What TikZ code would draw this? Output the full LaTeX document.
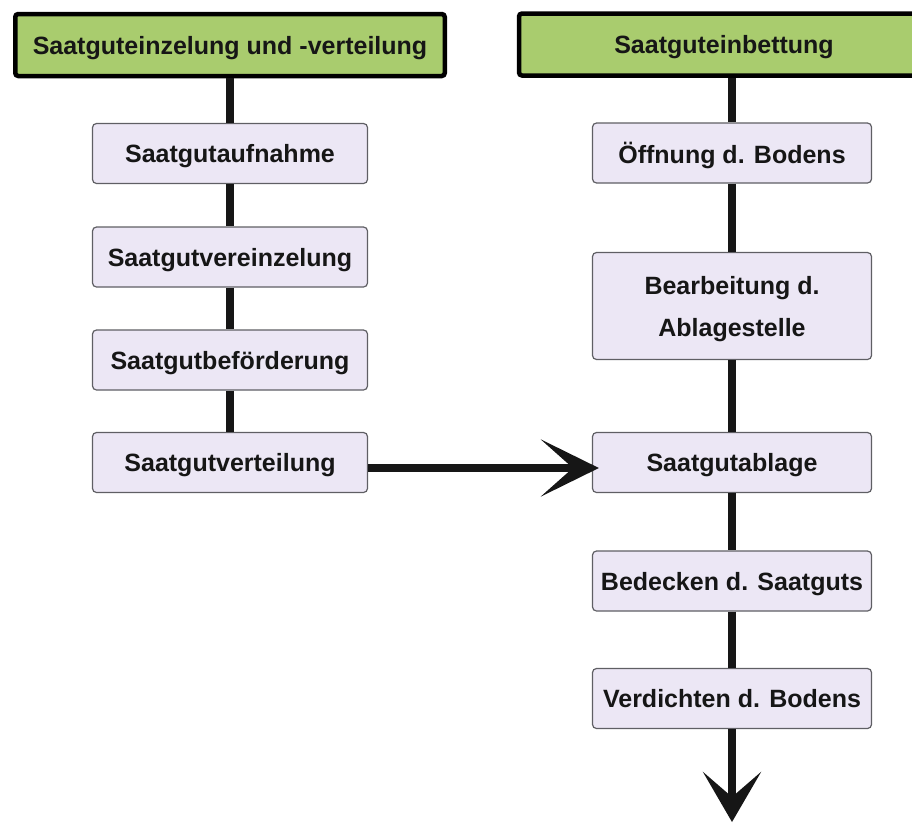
\documentclass[tikz,border=0pt]{standalone}
\usepackage{fontspec}
\setmainfont{Liberation Sans}
\usetikzlibrary{arrows.meta}
\definecolor{hdrgreen}{RGB}{169,204,110}
\definecolor{boxfill}{RGB}{236,231,245}
\definecolor{boxline}{RGB}{95,95,100}
\definecolor{ink}{RGB}{22,22,22}
\begin{document}
\begin{tikzpicture}[x=1pt,y=-1pt,
  hdr/.style={draw=black, line width=4.5pt, fill=hdrgreen, rounded corners=3pt,
    minimum height=62pt, inner sep=0pt, text=ink, text depth=0pt,
    font=\fontsize{25}{30}\selectfont\bfseries},
  stepbox/.style={draw=boxline, line width=1.2pt, fill=boxfill, rounded corners=4pt,
    minimum height=60pt, inner sep=0pt, align=center, text=ink, text depth=0pt,
    font=\fontsize{25}{42}\selectfont\bfseries},
  conn/.style={line width=8pt, draw=ink},
  bigarrow/.style={conn, -{Stealth[length=58pt,width=57pt,inset=32pt]}},
  downarrow/.style={conn, -{Stealth[length=50pt,width=58pt,inset=25pt]}}
]
\useasboundingbox (0,0) rectangle (912,822);

% left column
\node[hdr, minimum width=429.5pt] (Lh) at (230,45) {Saatguteinzelung und -verteilung};
\node[stepbox, minimum width=275pt] (L1) at (230,153.5) {Saatgutaufnahme};
\node[stepbox, minimum width=275pt] (L2) at (230,257) {Saatgutvereinzelung};
\node[stepbox, minimum width=275pt] (L3) at (230,360) {Saatgutbeförderung};
\node[stepbox, minimum width=275pt] (L4) at (230,462.5) {Saatgutverteilung};

% right column
\node[hdr, minimum width=410pt] (Rh) at (724,44.5) {Saatguteinbettung};
\node[stepbox, minimum width=279pt] (R1) at (732,153) {Öffnung d. Bodens};
\node[stepbox, minimum width=279pt, minimum height=107pt] (R2) at (732,306) {Bearbeitung d.\\Ablagestelle};
\node[stepbox, minimum width=279pt] (R3) at (732,462.5) {Saatgutablage};
\node[stepbox, minimum width=279pt] (R4) at (732,581) {Bedecken d. Saatguts};
\node[stepbox, minimum width=279pt] (R5) at (732,698.5) {Verdichten d. Bodens};
\coordinate (Rend) at (732,822);

% connectors left
\draw[conn] (Lh.south) -- (L1.north);
\draw[conn] (L1.south) -- (L2.north);
\draw[conn] (L2.south) -- (L3.north);
\draw[conn] (L3.south) -- (L4.north);

% connectors right
\draw[conn] (Rh.south -| R1.north) -- (R1.north);
\draw[conn] (R1.south) -- (R2.north);
\draw[conn] (R2.south) -- (R3.north);
\draw[conn] (R3.south) -- (R4.north);
\draw[conn] (R4.south) -- (R5.north);
\draw[downarrow] (R5.south) -- (Rend);

% cross arrow
\draw[bigarrow, shorten >=-7pt] ([yshift=-5.5pt]L4.east) -- ([yshift=-5.5pt]L4.east -| R3.west);
\end{tikzpicture}
\end{document}
